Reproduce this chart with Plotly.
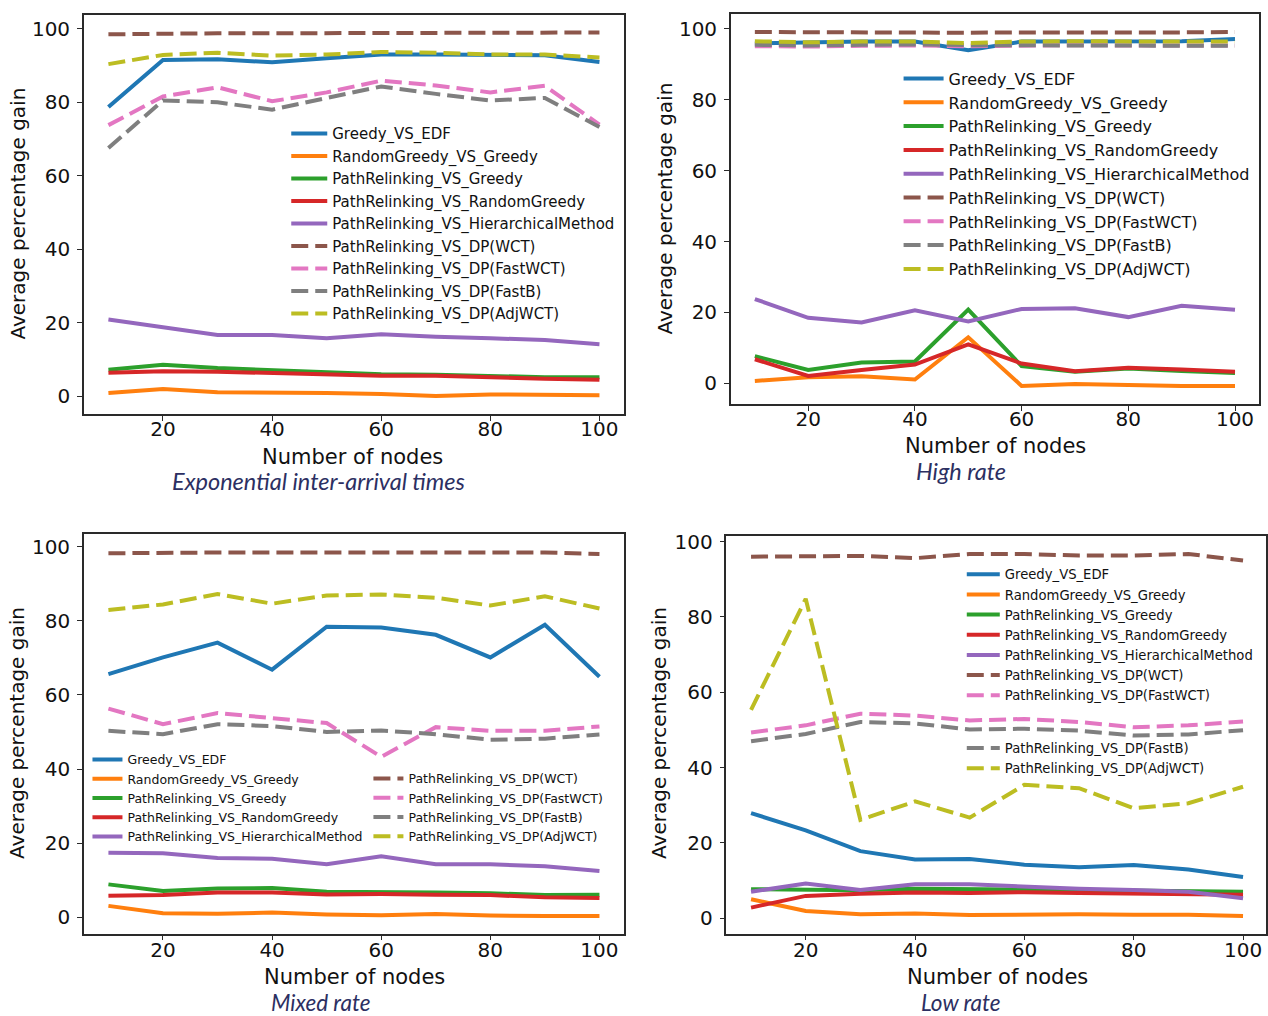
import plotly.graph_objects as go

W, H = 1268, 1016

NODES = [10, 20, 30, 40, 50, 60, 70, 80, 90, 100]
X_TICKS = [20, 40, 60, 80, 100]
Y_TICKS = [0, 20, 40, 60, 80, 100]

SERIES_NAMES = [
    "Greedy_VS_EDF",
    "RandomGreedy_VS_Greedy",
    "PathRelinking_VS_Greedy",
    "PathRelinking_VS_RandomGreedy",
    "PathRelinking_VS_HierarchicalMethod",
    "PathRelinking_VS_DP(WCT)",
    "PathRelinking_VS_DP(FastWCT)",
    "PathRelinking_VS_DP(FastB)",
    "PathRelinking_VS_DP(AdjWCT)",
]
COLORS = ["#1f77b4", "#ff7f0e", "#2ca02c", "#d62728", "#9467bd",
          "#8c564b", "#e377c2", "#7f7f7f", "#bcbd22"]
DASHED = [False, False, False, False, False, True, True, True, True]

CAPTIONS = ["Exponential inter-arrival times", "High rate", "Mixed rate", "Low rate"]
X_TITLE = "Number of nodes"
Y_TITLE = "Average percentage gain"

# ---- Exponential inter-arrival times ----
EXP_GREEDY_EDF = [78.7, 91.5, 91.7, 90.9, 92.0, 93.0, 93.0, 92.8, 92.8, 91.0]
EXP_RG_G = [0.9, 2.0, 1.1, 1.1, 0.9, 0.6, 0.1, 0.5, 0.5, 0.3]
EXP_PR_G = [7.2, 8.6, 7.7, 7.2, 6.5, 6.0, 5.9, 5.6, 5.2, 5.2]
EXP_PR_RG = [6.4, 6.8, 6.7, 6.4, 5.9, 5.6, 5.6, 5.1, 4.8, 4.5]
EXP_PR_HM = [20.9, 18.8, 16.7, 16.7, 15.8, 16.9, 16.2, 15.8, 15.3, 14.2]
EXP_PR_WCT = [98.5, 98.7, 98.8, 98.8, 98.8, 98.8, 98.8, 98.8, 98.8, 99.0]
EXP_PR_FWCT = [73.8, 81.6, 84.1, 80.3, 82.7, 85.9, 84.6, 82.7, 84.5, 73.9]
EXP_PR_FB = [67.6, 80.5, 80.0, 78.0, 81.2, 84.3, 82.3, 80.5, 81.2, 73.3]
EXP_PR_ADJ = [90.4, 92.9, 93.5, 92.7, 93.0, 93.7, 93.5, 93.0, 93.0, 92.2]

# ---- High rate ----
HIGH_GREEDY_EDF = [95.9, 96.2, 96.4, 96.4, 94.0, 96.4, 96.5, 96.4, 96.5, 97.1]
HIGH_RG_G = [0.7, 1.7, 2.0, 1.1, 13.0, -0.7, -0.2, -0.5, -0.7, -0.7]
HIGH_PR_G = [7.7, 3.8, 5.9, 6.2, 20.8, 4.9, 3.3, 4.2, 3.5, 2.9]
HIGH_PR_RG = [6.8, 2.1, 3.8, 5.3, 11.0, 5.6, 3.4, 4.4, 3.9, 3.3]
HIGH_PR_HM = [23.8, 18.5, 17.2, 20.6, 17.5, 21.0, 21.2, 18.7, 21.9, 20.8]
HIGH_PR_WCT = [99.1, 99.0, 99.1, 99.0, 98.9, 99.0, 99.1, 99.0, 99.0, 99.1]
HIGH_PR_FWCT = [95.1, 95.0, 95.2, 95.3, 95.1, 95.3, 95.4, 95.3, 95.3, 95.3]
HIGH_PR_FB = [95.5, 95.3, 95.5, 95.6, 95.4, 95.4, 95.3, 95.3, 95.3, 95.2]
HIGH_PR_ADJ = [96.5, 96.2, 96.4, 96.4, 96.0, 96.4, 96.5, 96.4, 96.4, 96.4]

# ---- Mixed rate ----
MIX_GREEDY_EDF = [65.6, 70.1, 74.1, 66.8, 78.4, 78.2, 76.2, 70.1, 78.9, 64.9]
MIX_RG_G = [3.1, 1.1, 1.0, 1.3, 0.8, 0.6, 0.9, 0.5, 0.4, 0.4]
MIX_PR_G = [8.9, 7.1, 7.8, 7.9, 6.9, 6.9, 6.7, 6.5, 6.0, 6.1]
MIX_PR_RG = [5.8, 6.0, 6.7, 6.7, 6.2, 6.3, 6.1, 6.0, 5.4, 5.2]
MIX_PR_HM = [17.4, 17.3, 16.0, 15.8, 14.3, 16.5, 14.3, 14.3, 13.8, 12.5]
MIX_PR_WCT = [98.2, 98.4, 98.4, 98.4, 98.4, 98.5, 98.4, 98.4, 98.4, 98.0]
MIX_PR_FWCT = [56.3, 52.1, 55.1, 53.8, 52.4, 43.3, 51.3, 50.3, 50.3, 51.5]
MIX_PR_FB = [50.3, 49.4, 52.1, 51.6, 50.0, 50.4, 49.4, 47.9, 48.2, 49.3]
MIX_PR_ADJ = [82.9, 84.4, 87.2, 84.6, 86.8, 87.1, 86.2, 84.1, 86.6, 83.3]

# ---- Low rate ----
LOW_GREEDY_EDF = [27.9, 23.3, 17.8, 15.6, 15.7, 14.2, 13.5, 14.1, 12.9, 10.9]
LOW_RG_G = [5.0, 1.9, 1.0, 1.2, 0.8, 1.0, 1.0, 0.9, 0.9, 0.6]
LOW_PR_G = [7.7, 7.6, 7.4, 7.8, 7.6, 7.6, 7.5, 7.4, 7.2, 7.0]
LOW_PR_RG = [2.8, 5.9, 6.5, 6.8, 6.7, 6.9, 6.7, 6.6, 6.3, 6.2]
LOW_PR_HM = [7.0, 9.2, 7.5, 9.0, 9.0, 8.4, 7.8, 7.5, 7.0, 5.3]
LOW_PR_WCT = [96.0, 96.2, 96.2, 95.6, 96.7, 96.7, 96.3, 96.3, 96.7, 95.0]
LOW_PR_FWCT = [49.3, 51.2, 54.3, 53.8, 52.5, 52.9, 52.1, 50.7, 51.2, 52.2]
LOW_PR_FB = [47.0, 48.9, 52.1, 51.7, 50.1, 50.3, 49.8, 48.5, 48.8, 49.9]
LOW_PR_ADJ = [55.3, 84.8, 26.1, 31.0, 26.7, 35.4, 34.5, 29.2, 30.5, 34.9]

PANEL_DATA = [
    [EXP_GREEDY_EDF, EXP_RG_G, EXP_PR_G, EXP_PR_RG, EXP_PR_HM,
     EXP_PR_WCT, EXP_PR_FWCT, EXP_PR_FB, EXP_PR_ADJ],
    [HIGH_GREEDY_EDF, HIGH_RG_G, HIGH_PR_G, HIGH_PR_RG, HIGH_PR_HM,
     HIGH_PR_WCT, HIGH_PR_FWCT, HIGH_PR_FB, HIGH_PR_ADJ],
    [MIX_GREEDY_EDF, MIX_RG_G, MIX_PR_G, MIX_PR_RG, MIX_PR_HM,
     MIX_PR_WCT, MIX_PR_FWCT, MIX_PR_FB, MIX_PR_ADJ],
    [LOW_GREEDY_EDF, LOW_RG_G, LOW_PR_G, LOW_PR_RG, LOW_PR_HM,
     LOW_PR_WCT, LOW_PR_FWCT, LOW_PR_FB, LOW_PR_ADJ],
]

# ---------------- layout (pixel geometry) ----------------
def fx(px):
    return px / W


def fy(py):
    return 1 - py / H


# (left, right, top, bottom) in pixels, x range, y range
PANEL_BOXES = [
    ((84, 625, 8, 410), [5.5, 104.5], [-4.86, 103.78]),
    ((732, 1261, 7, 400), [5.5, 104.5], [-5.88, 104.2]),
    ((84, 625, 531, 933), [5.5, 104.5], [-4.37, 103.3]),
    ((727.6, 1268, 533, 933), [5.5, 104.2], [-4.1, 101.4]),
]


def legend_for(panel, i):
    if panel == 0:
        return "legend"
    if panel == 1:
        return "legend2"
    if panel == 2:
        return "legend3" if i < 5 else "legend4"
    return "legend5" if i < 7 else "legend6"


FONT = "DejaVu Sans"
fig = go.Figure()

for p, data in enumerate(PANEL_DATA):
    suffix = "" if p == 0 else str(p + 1)
    for i, vals in enumerate(data):
        fig.add_trace(go.Scatter(
            x=NODES, y=vals, mode="lines", name=SERIES_NAMES[i],
            line=dict(color=COLORS[i], width=4,
                      dash="17px,7px" if DASHED[i] else "solid"),
            xaxis="x" + suffix, yaxis="y" + suffix,
            legend=legend_for(p, i), showlegend=True,
        ))

layout = dict(
    width=W, height=H,
    margin=dict(l=0, r=0, t=0, b=0),
    paper_bgcolor="white", plot_bgcolor="white",
    font=dict(family=FONT, color="#111111"),
    showlegend=True,
)

axis_common = dict(
    showgrid=False, zeroline=False, showline=True, mirror=True,
    linecolor="#2a2a2a", linewidth=1.5, ticks="outside", ticklen=5,
    tickwidth=1.2, tickcolor="#2a2a2a",
    tickfont=dict(family=FONT, size=20, color="#111111"),
)

X_STANDOFF = [-9, -9, -7, -7]
for p, (box, xr, yr) in enumerate(PANEL_BOXES):
    l, r, t, b = box
    suffix = "" if p == 0 else str(p + 1)
    layout["xaxis" + suffix] = dict(
        axis_common, domain=[fx(l), fx(r)], range=xr,
        tickvals=X_TICKS, anchor="y" + suffix, ticklabelstandoff=X_STANDOFF[p],
    )
    layout["yaxis" + suffix] = dict(
        axis_common, domain=[fy(b), fy(t)], range=yr,
        tickvals=Y_TICKS, anchor="x" + suffix, ticklabelstandoff=3,
    )

# legends: (id, left px, top px, font size, itemwidth)
LEGENDS = [
    ("legend", 286.7, 111.0, 15, 36),
    ("legend2", 900.0, 55.0, 16, 40),
    ("legend3", 87.6, 743.0, 12.5, 30),
    ("legend4", 369.0, 762.0, 12.5, 30),
    ("legend5", 963.3, 556.0, 13.2, 33),
    ("legend6", 963.3, 731.0, 13.2, 33),
]
for lid, lx, ly, fs, iw in LEGENDS:
    layout[lid] = dict(
        x=fx(lx), y=fy(ly), xanchor="left", yanchor="top",
        xref="paper", yref="paper",
        bgcolor="rgba(0,0,0,0)", borderwidth=0,
        font=dict(family=FONT, size=fs, color="#111111"),
        itemwidth=iw, tracegroupgap=0,
    )

annotations = []
X_TITLE_POS = [(353, 453), (997, 442), (355, 977), (999, 977)]
Y_TITLE_POS = [(18, 208), (666, 203), (17, 731), (660, 731)]
CAPTION_POS = [(319, 477), (963, 467), (321, 1002), (963, 1002)]
CAPTION_SIZE = [23.5, 23.5, 22.5, 22.5]

for p in range(4):
    cx, cy = X_TITLE_POS[p]
    annotations.append(dict(
        text=X_TITLE, x=fx(cx), y=fy(cy), xref="paper", yref="paper",
        xanchor="center", yanchor="middle", showarrow=False,
        font=dict(family=FONT, size=21, color="#111111"),
    ))
    cx, cy = Y_TITLE_POS[p]
    annotations.append(dict(
        text=Y_TITLE, x=fx(cx), y=fy(cy), xref="paper", yref="paper",
        xanchor="center", yanchor="middle", showarrow=False, textangle=-90,
        font=dict(family=FONT, size=20, color="#111111"),
    ))
    cx, cy = CAPTION_POS[p]
    annotations.append(dict(
        text="<i>" + CAPTIONS[p] + "</i>", x=fx(cx), y=fy(cy),
        xref="paper", yref="paper",
        xanchor="center", yanchor="middle", showarrow=False,
        font=dict(family="Lato", size=CAPTION_SIZE[p], color="#2c2f62"),
    ))

layout["annotations"] = annotations
fig.update_layout(**layout)

fig.write_html(
    "out.html",
    config={"displayModeBar": False},
    post_script="document.body.style.margin='0';document.body.style.overflow='hidden';",
)
